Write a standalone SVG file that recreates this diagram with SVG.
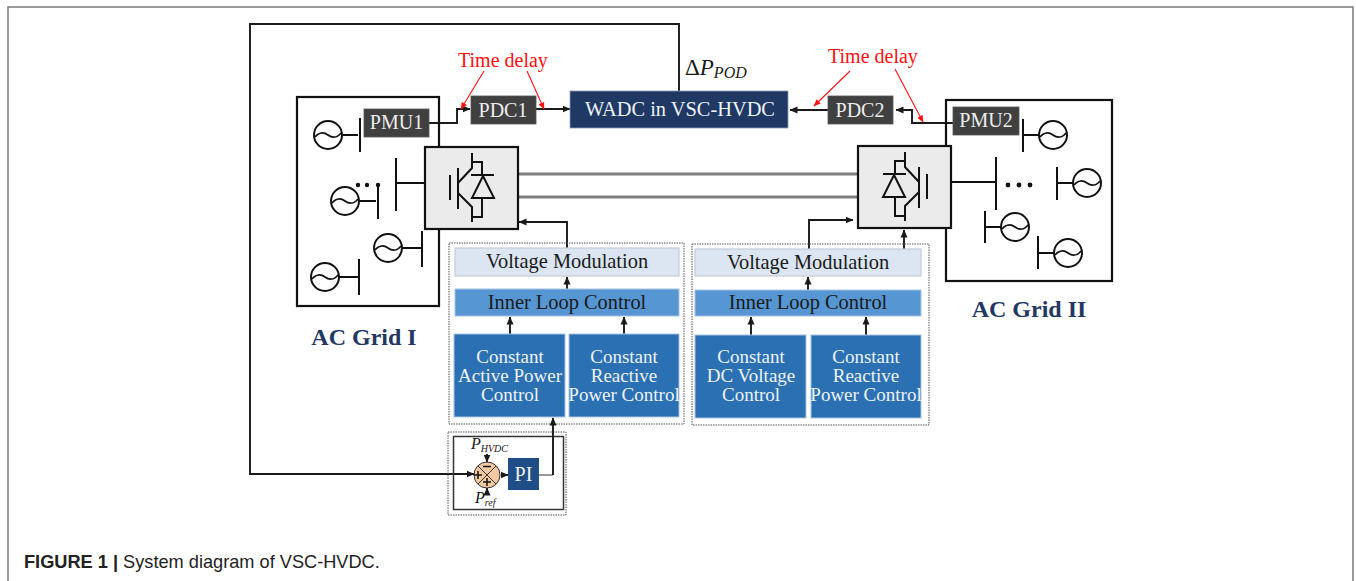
<svg xmlns="http://www.w3.org/2000/svg" width="1356" height="581" viewBox="0 0 1356 581">
<style>
text{font-family:"Liberation Serif","Times New Roman",serif}
.t20{font-size:20px;text-anchor:middle}
.t205{font-size:20.400px;text-anchor:middle}
.t19{font-size:19px;text-anchor:middle}
.lt{fill:#eeeeee}
.wh{fill:#eef3f9}
.dk{fill:#1a1a1a}
.red{fill:#ff1010}
.it{font-style:italic;fill:#1a1a1a}
.grid{font-size:24px;font-weight:bold;fill:#1f3864;text-anchor:middle}
.box{fill:none;stroke:#111;stroke-width:2.2}
.pm{fill:#404040;stroke:#555;stroke-width:.8}
.conv{fill:#ebebeb;stroke:#111;stroke-width:2.2}
.vm{fill:#dce6f2;stroke:#c4ccd6;stroke-width:1.2}
.il{fill:#5596d3;stroke:#a9c5e2;stroke-width:1}
.cc{fill:#2b70b2;stroke:#a9c5e2;stroke-width:1}
.dot{fill:none;stroke:#555;stroke-width:1;stroke-dasharray:1.5 1}
.ln{fill:none;stroke:#1a1a1a;stroke-width:1.9}
.rl{fill:none;stroke:#ff1010;stroke-width:1.1}
.sym{fill:none;stroke:#111;stroke-width:2}
.dc{stroke:#7f7f7f;stroke-width:3;fill:none}
</style>
<defs>
<marker id="a" markerUnits="userSpaceOnUse" markerWidth="9" markerHeight="8" refX="7.500" refY="4" orient="auto"><path d="M0,0.500L8,4L0,7.500z" fill="#1a1a1a"/></marker>
<marker id="r" markerUnits="userSpaceOnUse" markerWidth="8" markerHeight="7" refX="6.500" refY="3.500" orient="auto"><path d="M0,0.500L7,3.500L0,6.500z" fill="#ff1010"/></marker>
<g id="src"><circle r="14" fill="#fff" stroke="#111" stroke-width="2"/><path d="M-13,2C-9,-3 -4,-3 0,0S9,3 13,-2" fill="none" stroke="#111" stroke-width="1.700"/></g>
<g id="igbt">
<path class="sym" d="M450,175V200M458,168V209M472,153V168L458,183M458,193L472,207V222M472,162H482V176M482,198V217H472M471,175H494M483,176L472,198H494Z"/>
</g>
</defs>
<rect x="8" y="7" width="1345" height="590" fill="#fff" stroke="#7a7a7a" stroke-width="1.500"/>

<g id="connectors">
<path class="ln" d="M679,91V24H250V474H474" marker-end="url(#a)"/>
<path class="ln" d="M429,123H457V109H470" marker-end="url(#a)"/>
<path class="ln" d="M536,109H570" marker-end="url(#a)"/>
<path class="ln" d="M828,110H790" marker-end="url(#a)"/>
<path class="ln" d="M953,123H912V110H896" marker-end="url(#a)"/>
<path class="rl" d="M484,71L461,109" marker-end="url(#r)"/>
<path class="rl" d="M527,71L544,109" marker-end="url(#r)"/>
<path class="rl" d="M850,71L814,106" marker-end="url(#r)"/>
<path class="rl" d="M895,69L923,122" marker-end="url(#r)"/>
<path class="dc" d="M518,174H858M518,197H858"/>
<path class="ln" d="M567,248V222H519" marker-end="url(#a)"/>
<path class="ln" d="M809,249V220H853" marker-end="url(#a)"/>
<path class="ln" d="M904,249V230" marker-end="url(#a)"/>
<path class="ln" d="M567,289V277" marker-end="url(#a)"/>
<path class="ln" d="M808,290V277" marker-end="url(#a)"/>
<path class="ln" d="M510,334V317" marker-end="url(#a)"/>
<path class="ln" d="M624,334V317" marker-end="url(#a)"/>
<path class="ln" d="M751,335V317" marker-end="url(#a)"/>
<path class="ln" d="M866,335V317" marker-end="url(#a)"/>
</g>

<g id="ac-grid-1">
<rect class="box" x="297" y="97" width="142" height="209"/>
<use href="#src" x="328" y="135"/><path class="sym" d="M342,135H358M360,118V152"/>
<use href="#src" x="345" y="201"/><path class="sym" d="M359,201H376M378,183V219"/>
<circle cx="358" cy="185" r="2.200" fill="#111"/><circle cx="367" cy="185" r="2.200" fill="#111"/><circle cx="378" cy="185" r="2.200" fill="#111"/>
<use href="#src" x="388" y="248"/><path class="sym" d="M402,248H422M422,231V267"/>
<use href="#src" x="325" y="277"/><path class="sym" d="M339,277H358M359,259V295"/>
<path class="sym" d="M396,158V211M396,183H425"/>
<text class="grid" x="364" y="345">AC Grid I</text>
</g>
<g id="ac-grid-2">
<rect class="box" x="946" y="100" width="166" height="181"/>
<use href="#src" x="1053" y="135"/><path class="sym" d="M1039,135H1023M1023,119V152"/>
<use href="#src" x="1087" y="183"/><path class="sym" d="M1073,183H1057M1057,167V200"/>
<use href="#src" x="1015" y="227"/><path class="sym" d="M1001,227H985M985,211V243"/>
<use href="#src" x="1068" y="253"/><path class="sym" d="M1054,253H1038M1038,236V269"/>
<path class="sym" d="M996,157V210M951,182H996"/>
<circle cx="1008" cy="185" r="2.400" fill="#111"/><circle cx="1019" cy="185" r="2.400" fill="#111"/><circle cx="1030" cy="185" r="2.400" fill="#111"/>
<text class="grid" x="1029" y="317">AC Grid II</text>
</g>
<g id="pmu1"><rect class="pm" x="364" y="109" width="65" height="28"/><text class="t20 lt" x="396.500" y="129">PMU1</text></g>
<g id="pdc1"><rect class="pm" x="471" y="96" width="65" height="28"/><text class="t20 lt" x="503" y="117">PDC1</text></g>
<g id="wadc"><rect x="570" y="91" width="218" height="37" fill="#1f3864" stroke="#8a9bb8" stroke-width=".8"/><text class="t205 wh" x="680" y="116">WADC in VSC-HVDC</text></g>
<g id="pdc2"><rect class="pm" x="828" y="96" width="65" height="28"/><text class="t20 lt" x="860" y="117">PDC2</text></g>
<g id="pmu2"><rect class="pm" x="953" y="107" width="66" height="28"/><text class="t20 lt" x="986" y="127">PMU2</text></g>
<g id="conv1"><rect class="conv" x="425" y="147" width="93" height="82"/><use href="#igbt"/></g>
<g id="conv2"><rect class="conv" x="858" y="146" width="93" height="82"/><use href="#igbt" transform="translate(1377,-1) scale(-1,1)"/></g>

<g id="labels">
<text class="red" x="458" y="67" font-size="20">Time delay</text>
<text class="red" x="828" y="63" font-size="20">Time delay</text>
<text x="685" y="75" font-size="23" fill="#1a1a1a">Δ<tspan font-style="italic">P</tspan><tspan font-style="italic" font-size="16" dy="3">POD</tspan></text>
</g>

<g id="control-left">
<rect class="dot" x="449" y="243" width="235" height="181"/>
<g id="vm1"><rect class="vm" x="455" y="248" width="224" height="28"/><text class="t205 dk" x="567" y="268">Voltage Modulation</text></g>
<g id="il1"><rect class="il" x="455" y="289" width="224" height="27"/><text class="t205 dk" x="567" y="309">Inner Loop Control</text></g>
<g id="cap"><rect class="cc" x="454" y="334" width="111" height="83"/><text class="t19 wh" x="510" y="363">Constant</text><text class="t19 wh" x="510" y="382">Active Power</text><text class="t19 wh" x="510" y="401">Control</text></g>
<g id="crp1"><rect class="cc" x="569" y="334" width="110" height="83"/><text class="t19 wh" x="624" y="363">Constant</text><text class="t19 wh" x="624" y="382">Reactive</text><text class="t19 wh" x="624" y="401">Power Control</text></g>
</g>
<g id="control-right">
<rect class="dot" x="692" y="244" width="237" height="181"/>
<g id="vm2"><rect class="vm" x="695" y="249" width="226" height="27"/><text class="t205 dk" x="808" y="269">Voltage Modulation</text></g>
<g id="il2"><rect class="il" x="695" y="290" width="226" height="26"/><text class="t205 dk" x="808" y="309">Inner Loop Control</text></g>
<g id="cdc"><rect class="cc" x="695" y="335" width="111" height="83"/><text class="t19 wh" x="751" y="363">Constant</text><text class="t19 wh" x="751" y="382">DC Voltage</text><text class="t19 wh" x="751" y="401">Control</text></g>
<g id="crp2"><rect class="cc" x="811" y="335" width="110" height="83"/><text class="t19 wh" x="866" y="363">Constant</text><text class="t19 wh" x="866" y="382">Reactive</text><text class="t19 wh" x="866" y="401">Power Control</text></g>
</g>

<g id="pi-block">
<rect class="dot" x="448" y="432" width="118" height="83"/>
<rect x="453.500" y="436.500" width="110" height="73" fill="none" stroke="#333" stroke-width="1.500"/>
<path class="ln" d="M487,454V462" marker-end="url(#a)"/>
<path class="ln" d="M487,495V488" marker-end="url(#a)"/>
<path d="M502,475H508" class="ln" marker-end="url(#a)"/>
<path d="M539,475H553" fill="none" stroke="#777" stroke-width="1.500"/>
<path class="ln" d="M553,475V418" marker-end="url(#a)"/>
<g id="sum"><circle cx="487" cy="475" r="13" fill="#f3c9a2" stroke="#333" stroke-width="1"/>
<path d="M478,466L496,484M496,466L478,484" stroke="#333" stroke-width="1"/>
<path d="M483,466.500H491M474,475H482M478,471V479M483,482H491M487,478V486" stroke="#111" stroke-width="1.500"/></g>
<g id="pi"><rect x="508" y="458" width="31" height="32" fill="#1f4e86"/><text class="t20 wh" x="523.500" y="481">PI</text></g>
<text class="it" x="471" y="449" font-size="16">P<tspan font-size="10" dy="3">HVDC</tspan></text>
<text class="it" x="475" y="503" font-size="16">P<tspan font-size="10" dy="3">ref</tspan></text>
</g>

<g id="caption"><text x="24" y="568" font-size="18.200" fill="#222" style="font-family:'Liberation Sans',Arial,sans-serif"><tspan font-weight="bold">FIGURE 1 |</tspan> System diagram of VSC-HVDC.</text></g>
</svg>
